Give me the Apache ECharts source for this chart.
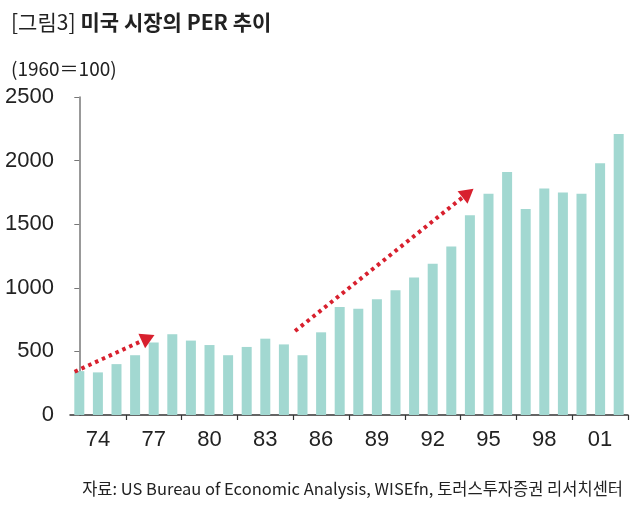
<!DOCTYPE html>
<html><head><meta charset="utf-8">
<script src="https://cdn.jsdelivr.net/npm/echarts@6/dist/echarts.min.js"></script>
<style>html,body{margin:0;padding:0;background:#fff}#c{width:640px;height:505px}</style>
</head><body><div id="c"></div>
<script>
const years = ['1973','1974','1975','1976','1977','1978','1979','1980','1981','1982','1983','1984','1985','1986','1987','1988','1989','1990','1991','1992','1993','1994','1995','1996','1997','1998','1999','2000','2001','2002'];
const perIndex = [345,335,400,470,570,635,585,550,470,535,600,555,470,650,850,835,910,980,1080,1190,1325,1570,1740,1910,1620,1780,1750,1740,1980,2210];
const yTicks = [0,500,1000,1500,2000,2500];
// trend arrows: [start [categoryPosition, value], end [categoryPosition, value]]
const trendArrow1 = [[-0.25, 340], [3.7, 605]];
const trendArrow2 = [[11.6, 660], [20.9, 1745]];

const chart = echarts.init(document.getElementById('c'), null, {renderer:'canvas'});
const numFont = "'Liberation Sans',Arial,sans-serif";
const krFont = "'Noto Sans CJK KR','Noto Sans',sans-serif";
chart.setOption({
  animation:false,
  backgroundColor:'#fff',
  title:[
    {text:'{l|[그림3]} {b|미국 시장의 PER 추이}', left:6, top:7,
     textStyle:{rich:{
       l:{fontFamily:krFont, fontSize:21, fontWeight:'normal', color:'#222'},
       b:{fontFamily:krFont, fontSize:21, fontWeight:'bold', color:'#222'}}}},
    {text:'(1960＝100)', left:6, top:54, textStyle:{fontFamily:krFont, fontSize:19, fontWeight:'normal', color:'#222'}},
    {text:'자료: US Bureau of Economic Analysis, WISEfn, 토러스투자증권 리서치센터', right:12, top:475,
     textStyle:{fontFamily:krFont, fontSize:16.5, fontWeight:'normal', color:'#222'}}
  ],
  grid:{left:70, right:12, top:97, bottom:90, containLabel:false},
  xAxis:[{
    type:'category', data:years, boundaryGap:true,
    axisLine:{lineStyle:{color:'#333', width:1.5}},
    axisTick:{show:true, length:5, lineStyle:{color:'#333', width:1.2},
      interval:function(i){return i>0 && i%3===0;}},
    axisLabel:{interval:function(i){return (i-1)%3===0;}, formatter:function(v){return v.slice(2);},
      fontFamily:numFont, fontSize:22, color:'#222', margin:14}
  },{
    type:'value', min:-0.5, max:29.5, show:false
  }],
  yAxis:{
    type:'value', min:yTicks[0], max:yTicks[yTicks.length-1], interval:500,
    axisLine:{show:true, lineStyle:{color:'#777', width:1.5}},
    axisTick:{show:true, length:5, lineStyle:{color:'#777'}},
    splitLine:{show:false},
    axisLabel:{fontFamily:numFont, fontSize:22, color:'#222', margin:16,
      formatter:function(v){return String(v);}}
  },
  series:[
    {type:'bar', data:perIndex, barWidth:10, itemStyle:{color:'#a2d8d1'}, silent:true},
    {type:'line', xAxisIndex:1, data:[], silent:true,
     markLine:{silent:true, symbol:['none','triangle'], symbolSize:[16,14],
       label:{show:false},
       lineStyle:{color:'#d8202e', width:4, type:[3.5,4], cap:'butt'},
       itemStyle:{color:'#e8212b'},
       emphasis:{disabled:true},
       data:[
         [{coord:trendArrow1[0]},{coord:trendArrow1[1]}],
         [{coord:trendArrow2[0]},{coord:trendArrow2[1]}]
       ]}}
  ]
});
</script></body></html>
